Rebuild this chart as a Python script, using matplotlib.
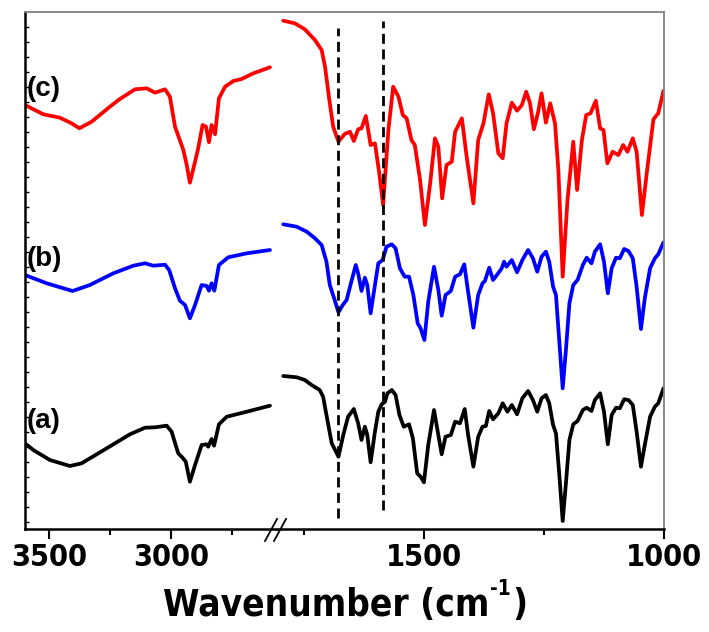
import matplotlib
matplotlib.use("Agg")
import matplotlib.pyplot as plt
from matplotlib.lines import Line2D
from matplotlib.ticker import FixedLocator
from matplotlib import font_manager as fm

# ---------------- data ----------------
# left panel (high wavenumber region)
wn_c_hi = [3600, 3525, 3457, 3409, 3377, 3327, 3252, 3211, 3149, 3101, 3067, 3026, 3006, 2985, 2951,
           2937, 2924, 2903, 2890, 2872, 2858, 2846, 2835, 2821, 2805, 2780, 2746, 2712, 2664, 2596]
t_c_hi = [425, 415.7, 412.3, 406.7, 401.7, 408.3, 423.3, 431, 440.7, 441.7, 437.3, 440.7, 433.3, 403.3, 380,
          365, 347.3, 368.3, 381.7, 405, 403.3, 387.7, 405, 395.7, 431.7, 443.3, 449, 451, 456.7, 462.7]

wn_b_hi = [3600, 3511, 3405, 3334, 3238, 3156, 3108, 3074, 3026, 3009, 2985, 2965, 2944, 2924, 2903,
           2876, 2855, 2846, 2835, 2824, 2805, 2767, 2691, 2596]
t_b_hi = [255, 246.7, 239, 245, 256.7, 264.3, 266.7, 264.3, 265.3, 260, 241.7, 229.3, 225, 211.7, 225,
          245, 244, 239.3, 246.7, 239.3, 265, 272.7, 276.7, 280]

wn_a_hi = [3600, 3566, 3498, 3416, 3368, 3265, 3170, 3108, 3067, 3019, 2999, 2972, 2954, 2941, 2924,
           2903, 2876, 2855, 2849, 2835, 2825, 2805, 2773, 2691, 2596]
t_a_hi = [86.7, 80, 70, 64, 66.7, 81.7, 95.7, 102.3, 102.7, 104.3, 98.3, 76.7, 72.3, 68.3, 48.3,
          65, 85, 85.7, 83.3, 91, 84.3, 105.7, 113.3, 118.3, 124.3]

# right panel (fingerprint region)
wn_c_lo = [1793, 1769, 1748, 1727, 1713, 1706, 1697, 1689, 1678, 1665, 1654, 1646, 1637, 1630, 1621,
           1611, 1602, 1593, 1585, 1574, 1564, 1553, 1544, 1536, 1526, 1519, 1508, 1498, 1487, 1477,
           1470, 1462, 1453, 1442, 1435, 1421, 1411, 1397, 1387, 1376, 1365, 1356, 1345, 1336, 1328,
           1317, 1306, 1296, 1287, 1279, 1271, 1262, 1255, 1246, 1237, 1227, 1220, 1211, 1201, 1189,
           1181, 1171, 1162, 1153, 1142, 1133, 1126, 1118, 1107, 1095, 1085, 1076, 1065, 1057, 1046,
           1036, 1022, 1012, 1001]
t_c_lo = [509.3, 506.7, 500.7, 490, 480, 463.3, 430, 403.3, 388.3, 396, 398.3, 389, 400.7, 401.7, 414,
          385, 386.7, 356.7, 325, 400, 443.3, 433.3, 415, 411.7, 390, 385, 350, 305, 346.7, 391.7,
          383.3, 331.7, 365, 368.3, 398.3, 411.7, 373.3, 326.7, 390, 406.7, 435.7, 416.7, 376.7, 371.7, 406.7,
          427.3, 419.3, 425, 438.3, 426.7, 400.7, 418.3, 436.7, 407.3, 426.7, 406.7, 360, 253.3, 330, 388.3,
          340, 390, 415, 416.7, 429.3, 401.7, 400, 366.7, 378.3, 375, 385, 378.3, 391.7, 378.3, 315,
          356.7, 410.7, 416.7, 439.3]

wn_b_lo = [1793, 1765, 1744, 1727, 1713, 1703, 1696, 1687, 1678, 1669, 1661, 1653, 1642, 1637, 1630,
           1623, 1618, 1611, 1602, 1595, 1586, 1578, 1567, 1559, 1550, 1540, 1531, 1522, 1513, 1507,
           1499, 1491, 1479, 1470, 1463, 1455, 1444, 1435, 1425, 1416, 1408, 1397, 1387, 1378, 1373,
           1364, 1356, 1347, 1338, 1333, 1328, 1317, 1306, 1295, 1283, 1273, 1264, 1255, 1246, 1239,
           1231, 1225, 1218, 1211, 1204, 1197, 1189, 1180, 1169, 1161, 1151, 1144, 1133, 1125, 1117,
           1109, 1100, 1092, 1083, 1074, 1065, 1057, 1048, 1040, 1029, 1019, 1012, 1001]
t_b_lo = [305.7, 303.3, 298.3, 291.7, 285, 268.3, 245, 231.7, 217.7, 225, 230, 245, 265, 256.7, 239,
          252.3, 245, 216.7, 245, 266.7, 270, 283.3, 285.7, 281.7, 261.7, 253.3, 253.3, 235, 206.7, 201.7,
          190, 228.3, 263.3, 240, 214.3, 235, 239, 253.3, 255.7, 265.7, 238.3, 202.3, 235, 246.7, 249,
          262.3, 250, 255.7, 261.7, 268.3, 263.3, 270, 257.7, 270, 280, 271.7, 258.3, 273.3, 278.3, 268.3,
          243.3, 235, 188.3, 141.7, 181.7, 226.7, 245, 250, 265, 272.3, 266.7, 278.3, 285.7, 268.3, 236.7,
          261.7, 272.3, 271.7, 281, 279, 271.7, 243.3, 201, 231.7, 261.7, 271.7, 275.7, 287.7]

wn_a_lo = [1793, 1765, 1748, 1734, 1717, 1710, 1703, 1692, 1678, 1668, 1658, 1646, 1637, 1630, 1623,
           1618, 1611, 1602, 1595, 1588, 1581, 1576, 1567, 1559, 1551, 1542, 1531, 1523, 1514, 1507,
           1500, 1491, 1479, 1470, 1463, 1455, 1444, 1435, 1425, 1415, 1408, 1397, 1387, 1378, 1371,
           1364, 1356, 1345, 1336, 1326, 1317, 1306, 1295, 1283, 1273, 1264, 1255, 1246, 1239, 1231,
           1225, 1218, 1211, 1204, 1197, 1189, 1180, 1169, 1161, 1151, 1144, 1133, 1125, 1117, 1109,
           1100, 1092, 1083, 1074, 1065, 1057, 1048, 1040, 1029, 1019, 1012, 1001]
t_a_lo = [154, 152.7, 150, 145, 140, 133.3, 115, 86.7, 73.3, 95, 113.3, 121, 106.7, 90, 103.3,
          95, 67.7, 98.3, 118.3, 125.7, 128.3, 136.7, 140, 135, 115, 103.3, 105.7, 91.7, 56.7, 53.3,
          47.7, 85, 120, 95, 75.7, 93.3, 95, 108.3, 106.7, 121, 95, 63.3, 93.3, 103.3, 104,
          119, 110.7, 116.7, 126.7, 118.3, 125, 115.7, 131.7, 139, 130, 118.3, 131.7, 135, 126.7, 105,
          96.7, 55, 9, 48.3, 90, 105.7, 109, 120, 122.3, 119, 130, 136.7, 118.3, 85.7, 115,
          122.3, 121.7, 130.7, 130, 125, 98.3, 63.3, 85, 113.3, 123.3, 126.7, 141.7]

series_labels = ["(a)", "(b)", "(c)"]
series_colors = ["black", "blue", "red"]

dash_positions = [1678, 1585]
dash_spans = [(12, 502), (20, 509)]

left_ticks_major = [3500, 3000]
left_ticks_minor = [3250, 2750]
right_ticks_major = [1500, 1000]
right_ticks_minor = [1750, 1250]

x_label_main = "Wavenumber (cm"
x_label_sup = "-1"
x_label_end = ")"

# ---------------- figure ----------------
W, H = 709, 632
fig = plt.figure(figsize=(W / 100, H / 100), dpi=100)

x0, x_break, x1 = 25, 277, 664
y_top, y_bot = 12, 529
axL = fig.add_axes([x0 / W, (H - y_bot) / H, (x_break - x0) / W, (y_bot - y_top) / H])
axR = fig.add_axes([x_break / W, (H - y_bot) / H, (x1 - x_break) / W, (y_bot - y_top) / H])

axL.set_xlim(3600, 2567)
axR.set_xlim(1806, 1000)
for ax in (axL, axR):
    ax.set_ylim(1, 518)

lw = 2.7
hi = [(wn_a_hi, t_a_hi), (wn_b_hi, t_b_hi), (wn_c_hi, t_c_hi)]
lo = [(wn_a_lo, t_a_lo), (wn_b_lo, t_b_lo), (wn_c_lo, t_c_lo)]
for (xh, yh), (xl, yl), col in zip(hi, lo, series_colors):
    axL.plot(xh, yh, color=col, lw=lw, solid_joinstyle="round", solid_capstyle="round")
    axR.plot(xl, yl, color=col, lw=lw, solid_joinstyle="round", solid_capstyle="round")

for xp, (ya, yb) in zip(dash_positions, dash_spans):
    axR.plot([xp, xp], [ya, yb], color="black", lw=2.0, linestyle=(0, (3.6, 2.0)))

# spines
gray = "#808080"
for ax in (axL, axR):
    ax.spines["top"].set_color(gray)
    ax.spines["top"].set_linewidth(1.3)
    ax.spines["bottom"].set_color("black")
    ax.spines["bottom"].set_linewidth(1.8)
axL.spines["right"].set_visible(False)
axR.spines["left"].set_visible(False)
axL.spines["left"].set_linewidth(1.8)
axR.spines["right"].set_color(gray)
axR.spines["right"].set_linewidth(1.3)

cond_font = fm.FontProperties(family=["DejaVu Sans"], weight="bold", stretch="condensed", size=22)

axL.xaxis.set_major_locator(FixedLocator(left_ticks_major))
axL.xaxis.set_minor_locator(FixedLocator(left_ticks_minor))
axR.xaxis.set_major_locator(FixedLocator(right_ticks_major))
axR.xaxis.set_minor_locator(FixedLocator(right_ticks_minor))
for ax in (axL, axR):
    ax.tick_params(axis="x", which="major", direction="out", length=7, width=1.5, pad=3)
    ax.tick_params(axis="x", which="minor", direction="out", length=4, width=1.5)
    ax.set_xticklabels([str(t) for t in ax.get_xticks()], fontproperties=cond_font)

# y ticks: only small inward ticks on the left spine
axL.yaxis.set_major_locator(FixedLocator([]))
axL.yaxis.set_minor_locator(FixedLocator(list(range(8, 518, 15))))
axL.tick_params(axis="y", which="minor", direction="in", length=3, width=1)
axR.set_yticks([])
axR.tick_params(axis="y", which="both", left=False, right=False)

# series labels
label_pos = [(0.008, 0.208), (0.008, 0.522), (0.008, 0.851)]
for (lx, ly), txt in zip(label_pos, series_labels):
    axL.text(lx, ly, txt, transform=axL.transAxes, ha="left", va="center",
             fontsize=20, fontweight="bold", family=["Liberation Sans", "DejaVu Sans"])

# x label built from pieces so the superscript is a small hyphen-one
lab_font = fm.FontProperties(family=["DejaVu Sans"], weight="bold", stretch="condensed", size=26.5)
sup_font = fm.FontProperties(family=["DejaVu Sans"], weight="bold", stretch="condensed", size=15)
base_y = 1 - 616 / H
sup_y = 1 - 595 / H
t1 = fig.text(0, base_y, x_label_main, ha="left", va="baseline", fontproperties=lab_font)
t2 = fig.text(0, sup_y, x_label_sup, ha="left", va="baseline", fontproperties=sup_font)
t3 = fig.text(0, base_y, x_label_end, ha="left", va="baseline", fontproperties=lab_font)
fig.canvas.draw()
r = fig.canvas.get_renderer()
w1 = t1.get_window_extent(r).width
w2 = t2.get_window_extent(r).width
w3 = t3.get_window_extent(r).width
total = w1 + 1 + w2 + 1 + w3
start = 345 - total / 2
t1.set_x(start / W)
t2.set_x((start + w1 + 1) / W)
t3.set_x((start + w1 + 1 + w2 + 1) / W)

# break marks "//"
for (xa, ya, xb, yb) in [(265, 541, 277, 519), (274, 541, 286, 519)]:
    fig.add_artist(Line2D([xa / W, xb / W], [1 - ya / H, 1 - yb / H], transform=fig.transFigure,
                          color="black", lw=1.3))

fig.savefig("out.png", dpi=100)
